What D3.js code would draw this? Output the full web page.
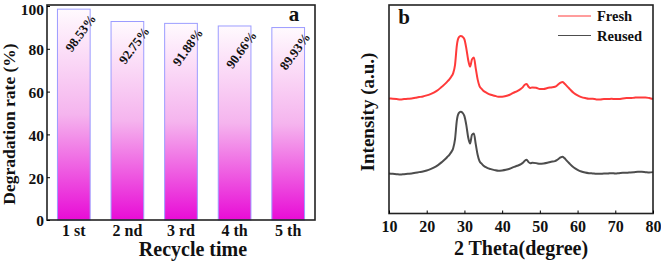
<!DOCTYPE html>
<html>
<head>
<meta charset="utf-8">
<script src="https://cdn.jsdelivr.net/npm/d3@7"></script>
<style>
  body { margin: 0; background: #fff; }
  svg text { font-family: "Liberation Serif", "Times New Roman", serif; font-weight: bold; fill: #111; }
</style>
</head>
<body>
<div id="container"></div>
<script>
// panel a: recycle test
const cycles = ["1 st", "2 nd", "3 rd", "4 th", "5 th"];
const rates = [98.53, 92.75, 91.88, 90.66, 89.93];
const rateTicks = [0, 20, 40, 60, 80, 100];

// panel b: XRD patterns (a.u.)
const twoTheta = [10,11,12,13,14,15,16,17,18,19,20,21,22,23,24,25,
  25.5,26,26.5,27,27.5,28,28.5,29,29.5,30,30.5,31,31.5,32,32.5,33,33.5,34,34.5,35,
  36,37,38,39,40,41,42,43,44,45,45.5,46,46.5,47,47.5,48,49,50,51,52,53,54,
  54.5,55,55.5,56,56.5,57,57.5,58,59,60,61,62,63,64,65,66,67,68,69,70,71,72,73,74,75,76,77,78,79,80];
const fresh = [345,344,343,342,343,344,345,347,349,351,354,358,363,370,380,390,
  396,402,410,420,445,505,528,532,530,522,495,460,440,462,468,435,402,382,374,368,
  361,356,353,350,350,352,356,362,367,374,379,386,388,380,376,378,377,373,373,376,378,380,
  383,388,392,394,390,384,378,372,361,354,349,346,344,344,342,342,343,343,344,343,343,345,346,346,347,348,348,348,346,343];
const reused = [120,119,118,117,118,119,120,122,124,126,129,133,138,145,154,164,
  170,176,184,195,222,280,301,305,302,292,265,228,210,236,240,208,176,157,150,144,
  137,133,130,128,129,131,134,139,143,148,152,158,161,154,151,152,151,149,150,152,155,157,
  160,164,168,170,166,160,154,148,138,131,126,123,121,120,119,119,120,120,121,120,121,122,122,123,124,125,125,124,123,124];
const thetaTicks = [10, 20, 30, 40, 50, 60, 70, 80];
const seriesNames = ["Fresh", "Reused"];
const seriesColors = ["#ff3a3a", "#4d4d4d"];

const W = 661, H = 262;
const svg = d3.create("svg").attr("width", W).attr("height", H);

// ---------- panel a ----------
const ax = { l: 47, r: 315, t: 5, b: 220 };
const xa = d3.scaleBand().domain(cycles).range([ax.l, ax.r]).paddingInner(0.39).paddingOuter(0.195);
const ya = d3.scaleLinear().domain([0, 100]).range([ax.b, 6]);

const defs = svg.append("defs");
const grad = defs.append("linearGradient").attr("id", "barGrad")
  .attr("x1", 0).attr("y1", 0).attr("x2", 0).attr("y2", 1);
grad.append("stop").attr("offset", "0%").attr("stop-color", "#fffafe");
grad.append("stop").attr("offset", "50%").attr("stop-color", "#f5b4ee");
grad.append("stop").attr("offset", "100%").attr("stop-color", "#e80cd6");

const ga = svg.append("g");
ga.selectAll("rect.bar").data(rates).enter().append("rect")
  .attr("class", "bar")
  .attr("x", (d, i) => xa(cycles[i]))
  .attr("y", d => ya(d))
  .attr("width", xa.bandwidth())
  .attr("height", d => ax.b - ya(d))
  .attr("fill", "url(#barGrad)")
  .attr("stroke", "#9c9cff")
  .attr("stroke-width", 1);

ga.selectAll("text.val").data(rates).enter().append("text")
  .attr("class", "val")
  .attr("transform", (d, i) => `translate(${xa(cycles[i]) + xa.bandwidth() - 1},${ya(d) + 4}) rotate(-54)`)
  .attr("text-anchor", "end")
  .attr("dy", "0.7em")
  .style("font-size", "13px")
  .text(d => d.toFixed(2) + "%");

ga.append("rect").attr("x", ax.l).attr("y", ax.t).attr("width", ax.r - ax.l).attr("height", ax.b - ax.t)
  .attr("fill", "none").attr("stroke", "#222").attr("stroke-width", 1.6);

const yAxisA = d3.axisLeft(ya).tickValues(rateTicks).tickSizeInner(-3).tickSizeOuter(0).tickPadding(3);
ga.append("g").attr("transform", `translate(${ax.l},0)`).call(yAxisA)
  .call(g => g.select(".domain").remove())
  .call(g => g.selectAll("text").style("font-size", "15.5px").attr("fill", "#111")
    .attr("dy", d => d === 100 ? "0.52em" : "0.38em"));
const xAxisA = d3.axisBottom(xa).tickSize(0).tickPadding(5);
ga.append("g").attr("transform", `translate(0,${ax.b})`).call(xAxisA)
  .call(g => g.select(".domain").remove())
  .call(g => g.selectAll("text").style("font-size", "16px").attr("fill", "#111"));

ga.append("text").attr("x", 193).attr("y", 256).attr("text-anchor", "middle")
  .style("font-size", "20px").text("Recycle time");
ga.append("text").attr("transform", `translate(15,124) rotate(-90)`)
  .attr("text-anchor", "middle").style("font-size", "17.5px").text("Degradation rate (%)");
ga.append("text").attr("x", 294).attr("y", 21).attr("text-anchor", "middle")
  .style("font-size", "21px").text("a");

// ---------- panel b ----------
const bx = { l: 389, r: 653, t: 5, b: 213.5 };
const xb = d3.scaleLinear().domain([10, 80]).range([bx.l, bx.r]);
const yb = d3.scaleLinear().domain([0, 622]).range([bx.b, 6]);

const gb = svg.append("g");
const line = d3.line().x(d => xb(d[0])).y(d => yb(d[1])).curve(d3.curveMonotoneX);
[fresh, reused].forEach((s, k) => {
  gb.append("path").datum(twoTheta.map((t, i) => [t, s[i]]))
    .attr("d", line).attr("fill", "none")
    .attr("stroke", seriesColors[k]).attr("stroke-width", 2);
});

gb.append("rect").attr("x", bx.l).attr("y", bx.t).attr("width", bx.r - bx.l).attr("height", bx.b - bx.t)
  .attr("fill", "none").attr("stroke", "#222").attr("stroke-width", 1.6);

const xAxisB = d3.axisBottom(xb).tickValues(thetaTicks).tickSizeInner(-3).tickSizeOuter(0).tickPadding(7);
gb.append("g").attr("transform", `translate(0,${bx.b})`).call(xAxisB)
  .call(g => g.select(".domain").remove())
  .call(g => g.selectAll("text").style("font-size", "16px").attr("fill", "#111"));

gb.append("text").attr("x", 521).attr("y", 255).attr("text-anchor", "middle")
  .style("font-size", "20px").text("2 Theta(degree)");
gb.append("text").attr("transform", `translate(374,112) rotate(-90)`)
  .attr("text-anchor", "middle").style("font-size", "19px").text("Intensity (a.u.)");
gb.append("text").attr("x", 404).attr("y", 24).attr("text-anchor", "middle")
  .style("font-size", "21px").text("b");

const leg = gb.selectAll("g.leg").data(seriesNames).enter().append("g")
  .attr("class", "leg").attr("transform", (d, i) => `translate(558,${16 + i * 19.5})`);
leg.append("line").attr("x1", 0).attr("x2", 33)
  .attr("stroke", (d, i) => seriesColors[i]).attr("stroke-width", 1);
leg.append("text").attr("x", 39).attr("dy", "0.35em").style("font-size", "14.5px").text(d => d);

document.getElementById("container").append(svg.node());
</script>
</body>
</html>
